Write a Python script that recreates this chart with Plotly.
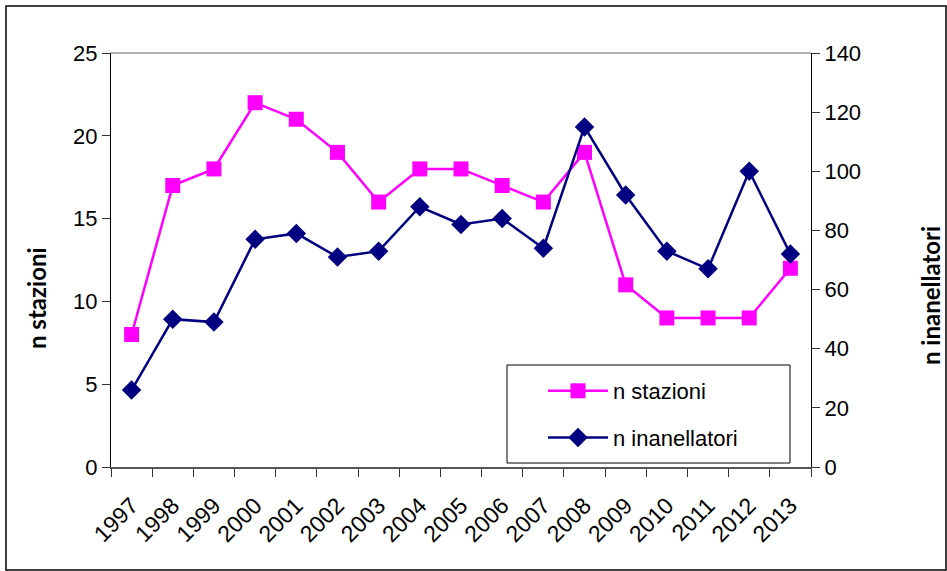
import plotly.graph_objects as go

years = [str(y) for y in range(1997, 2014)]
n_stazioni = [8, 17, 18, 22, 21, 19, 16, 18, 18, 17, 16, 19, 11, 9, 9, 9, 12]
n_inanellatori = [26, 50, 49, 77, 79, 71, 73, 88, 82, 84, 74, 115, 92, 73, 67, 100, 72]

W, H = 947, 571
L, R, T, B = 111, 811, 53, 467
pw, ph = R - L, B - T

def px(x):
    return (x - L) / pw

def py(y):
    return (B - y) / ph

FONT = "Liberation Sans, Arial, sans-serif"
TFONT = "Lato, Liberation Sans, sans-serif"

fig = go.Figure()
fig.add_trace(go.Scatter(
    x=years, y=n_stazioni, name="n stazioni", mode="lines+markers",
    line=dict(color="#FF00FF", width=2.5),
    marker=dict(symbol="square", size=15, color="#FF00FF"),
    legendgroup="a",
))
fig.add_trace(go.Scatter(
    x=years, y=n_inanellatori, name="n inanellatori", mode="lines+markers",
    line=dict(color="#000080", width=2.5),
    marker=dict(symbol="diamond", size=15, color="#000080"),
    yaxis="y2", legendgroup="b",
))

fig.update_layout(
    width=W, height=H,
    margin=dict(l=L, r=W - R, t=T, b=H - B, autoexpand=False),
    paper_bgcolor="white", plot_bgcolor="white",
    font=dict(family=FONT, size=21, color="black"),
    showlegend=True,
    legend=dict(
        x=px(543), y=py(370), xanchor="left", yanchor="top",
        bgcolor="rgba(0,0,0,0)", borderwidth=0,
        font=dict(size=22), tracegroupgap=15,
        itemwidth=60,
    ),
    xaxis=dict(
        type="category", range=[-0.5, 16.5], tickangle=-45,
        tickson="boundaries",
        ticks="outside", ticklen=8, tickcolor="#333", tickwidth=1,
        showline=True, linecolor="#555", linewidth=2,
        showgrid=False, zeroline=False,
        tickfont=dict(size=23), automargin=False, ticklabelstandoff=14,
    ),
    yaxis=dict(
        range=[0, 25], dtick=5, ticks="outside", ticklen=8,
        tickcolor="#333", showline=True, linecolor="black", linewidth=1,
        showgrid=False, zeroline=False, tickfont=dict(size=22),
        automargin=False,
    ),
    yaxis2=dict(
        range=[0, 140], dtick=20, overlaying="y", side="right",
        ticks="outside", ticklen=8, tickcolor="#333",
        showline=True, linecolor="black", linewidth=1,
        showgrid=False, zeroline=False, tickfont=dict(size=22),
        automargin=False,
    ),
    annotations=[
        dict(text="<b>n stazioni</b>", xref="paper", yref="paper",
             x=px(36), y=py(298), textangle=-90, showarrow=False,
             font=dict(size=24, family=TFONT), xanchor="center", yanchor="middle"),
        dict(text="<b>n inanellatori</b>", xref="paper", yref="paper",
             x=px(930), y=py(296), textangle=-90, showarrow=False,
             font=dict(size=24, family=TFONT), xanchor="center", yanchor="middle"),
    ],
    shapes=[
        dict(type="rect", xref="paper", yref="paper",
             x0=px(6), x1=px(946), y0=py(570), y1=py(6),
             line=dict(color="black", width=1.5), layer="below"),
        dict(type="line", xref="paper", yref="paper",
             x0=0, x1=1, y0=1, y1=1,
             line=dict(color="#999", width=1.5)),
        dict(type="rect", xref="paper", yref="paper",
             x0=px(507), x1=px(790), y0=py(463), y1=py(365),
             line=dict(color="black", width=1), fillcolor="white",
             layer="below"),
    ],
)

fig.write_html(
    "out.html",
    config={"displayModeBar": False},
    post_script="document.body.style.margin='0';document.body.style.overflow='hidden';",
)
